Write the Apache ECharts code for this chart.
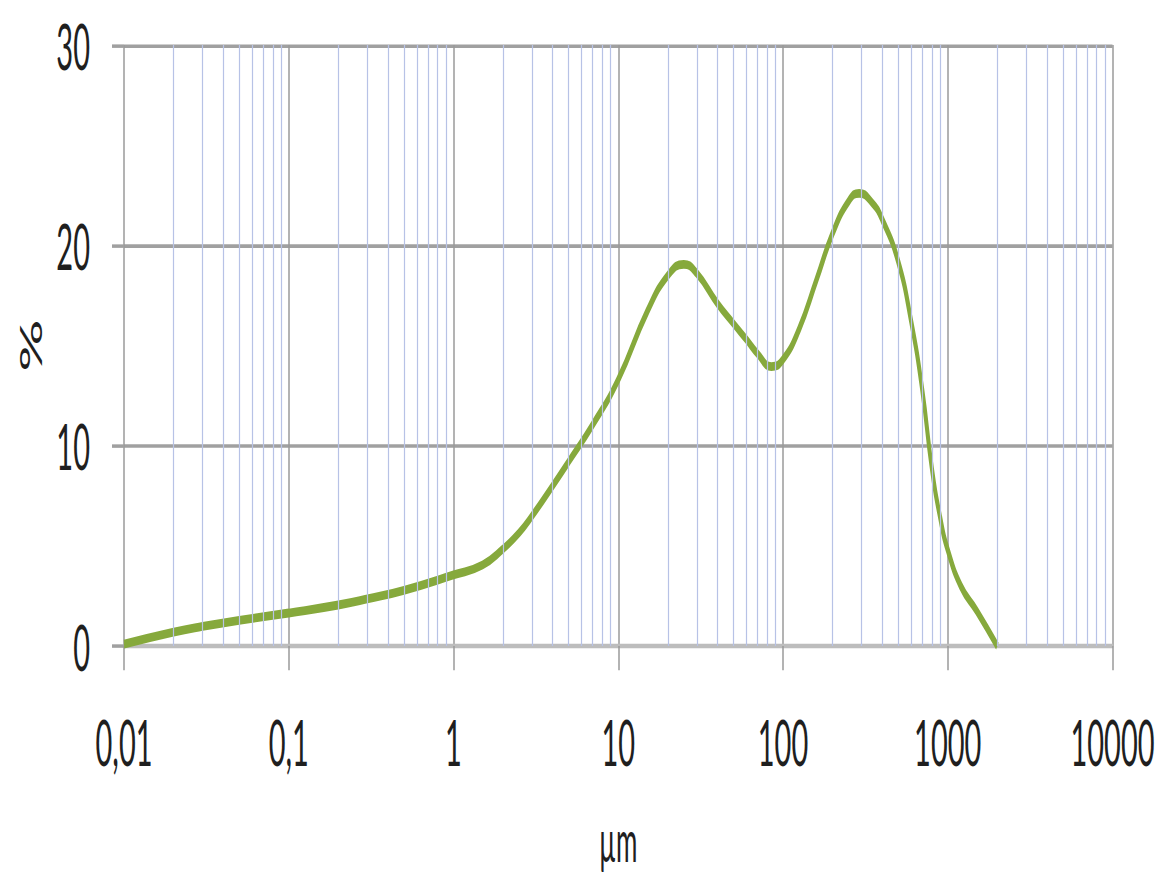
<!DOCTYPE html>
<html>
<head>
<meta charset="utf-8">
<script src="https://cdn.jsdelivr.net/npm/echarts@6/dist/echarts.min.js"></script>
<style>
  html, body { margin: 0; padding: 0; background: #ffffff; overflow: hidden; }
  #stage { width: 1158px; height: 879px; overflow: hidden; }
  /* the chart is laid out at 400px and stretched vertically to fill the page */
  #chart { width: 1158px; height: 400px; transform: scaleY(2.1975); transform-origin: 0 0; }
</style>
</head>
<body>
<div id="stage"><div id="chart"></div></div>
<script>
// particle size (µm) and frequency (%)
const sizeUm = [0.01, 0.02, 0.03, 0.05, 0.1, 0.2, 0.3, 0.5, 1, 1.5, 2, 2.5, 3, 4, 5, 7, 10, 15, 20, 25, 30, 40,
                50, 60, 70, 85, 100, 125, 160, 200, 250, 290, 350, 400, 500, 600, 700, 800, 900, 1000,
                1200, 1500, 2000];
const percent = [0.1, 0.7, 0.98, 1.28, 1.65, 2.05, 2.35, 2.78, 3.55, 4.05, 4.85, 5.65, 6.5, 8.0, 9.2, 11.05, 13.3, 16.7, 18.5, 19.05, 18.6, 17.1,
                 16.1, 15.3, 14.6, 13.95, 14.3, 15.8, 18.3, 20.6, 22.2, 22.6, 22.1, 21.3, 19.2, 16.2, 12.8, 8.9, 6.4, 4.8,
                 3.0, 1.75, 0];

// decade labels with decimal comma
const xTickLabels = ['0,01', '0,1', '1', '10', '100', '1000', '10000'];
const yTickLabels = ['0', '10', '20', '30'];

// minor log gridlines: 2..9 within each decade
const minorGrid = [];
for (let e = -2; e < 4; e++) {
  for (let m = 2; m < 10; m++) minorGrid.push(+(m * Math.pow(10, e)).toPrecision(3));
}

const FONT = 'Lato';
const TEXT = '#1f1f1f';

const chart = echarts.init(document.getElementById('chart'), null, { renderer: 'svg' });
chart.setOption({
  animation: false,
  backgroundColor: '#ffffff',
  grid: { left: 124, right: 45.5, top: 20.5, bottom: 106, containLabel: false, outerBoundsMode: 'none' },
  xAxis: {
    type: 'log',
    logBase: 10,
    min: 0.01,
    max: 10000,
    splitNumber: 6,
    name: 'µm',
    nameLocation: 'middle',
    nameGap: 75,
    nameTextStyle: { fontFamily: FONT, fontSize: 26, color: TEXT },
    axisLine: { show: true, onZero: false, lineStyle: { color: '#bdbdbd', width: 2 } },
    axisTick: { show: true, length: 11, lineStyle: { color: '#9a9a9a', width: 1.5 } },
    axisLabel: {
      margin: 29,
      fontFamily: FONT,
      fontSize: 29,
      color: TEXT,
      formatter: v => xTickLabels[Math.round(Math.log10(v)) + 2]
    },
    splitLine: { show: true, lineStyle: { color: '#9a9a9a', width: 1.5 } }
  },
  yAxis: {
    type: 'value',
    min: 0,
    max: 30,
    interval: 10,
    name: '%',
    nameLocation: 'middle',
    nameRotate: 90,
    nameGap: 79,
    nameTextStyle: { fontFamily: FONT, fontSize: 30, color: TEXT },
    axisLine: { show: false },
    axisTick: { show: true, length: 12, lineStyle: { color: '#a0a0a0', width: 1.6 } },
    axisLabel: {
      margin: 34,
      fontFamily: FONT,
      fontSize: 29,
      color: TEXT,
      formatter: v => yTickLabels[Math.round(v / 10)]
    },
    splitLine: { show: true, lineStyle: { color: '#a0a0a0', width: 1.6 } }
  },
  series: [
    {
      name: 'minor grid',
      type: 'line',
      data: [],
      silent: true,
      z: 1,
      markLine: {
        silent: true,
        symbol: 'none',
        animation: false,
        label: { show: false },
        lineStyle: { color: '#b7c2e6', width: 1.2, type: 'solid' },
        data: minorGrid.map(v => ({ xAxis: v }))
      }
    },
    {
      name: '%',
      type: 'line',
      data: sizeUm.map((x, i) => [x, percent[i]]),
      smooth: 0.5,
      showSymbol: false,
      z: 3,
      lineStyle: { color: '#86a93c', width: 4 }
    }
  ]
});
</script>
</body>
</html>
